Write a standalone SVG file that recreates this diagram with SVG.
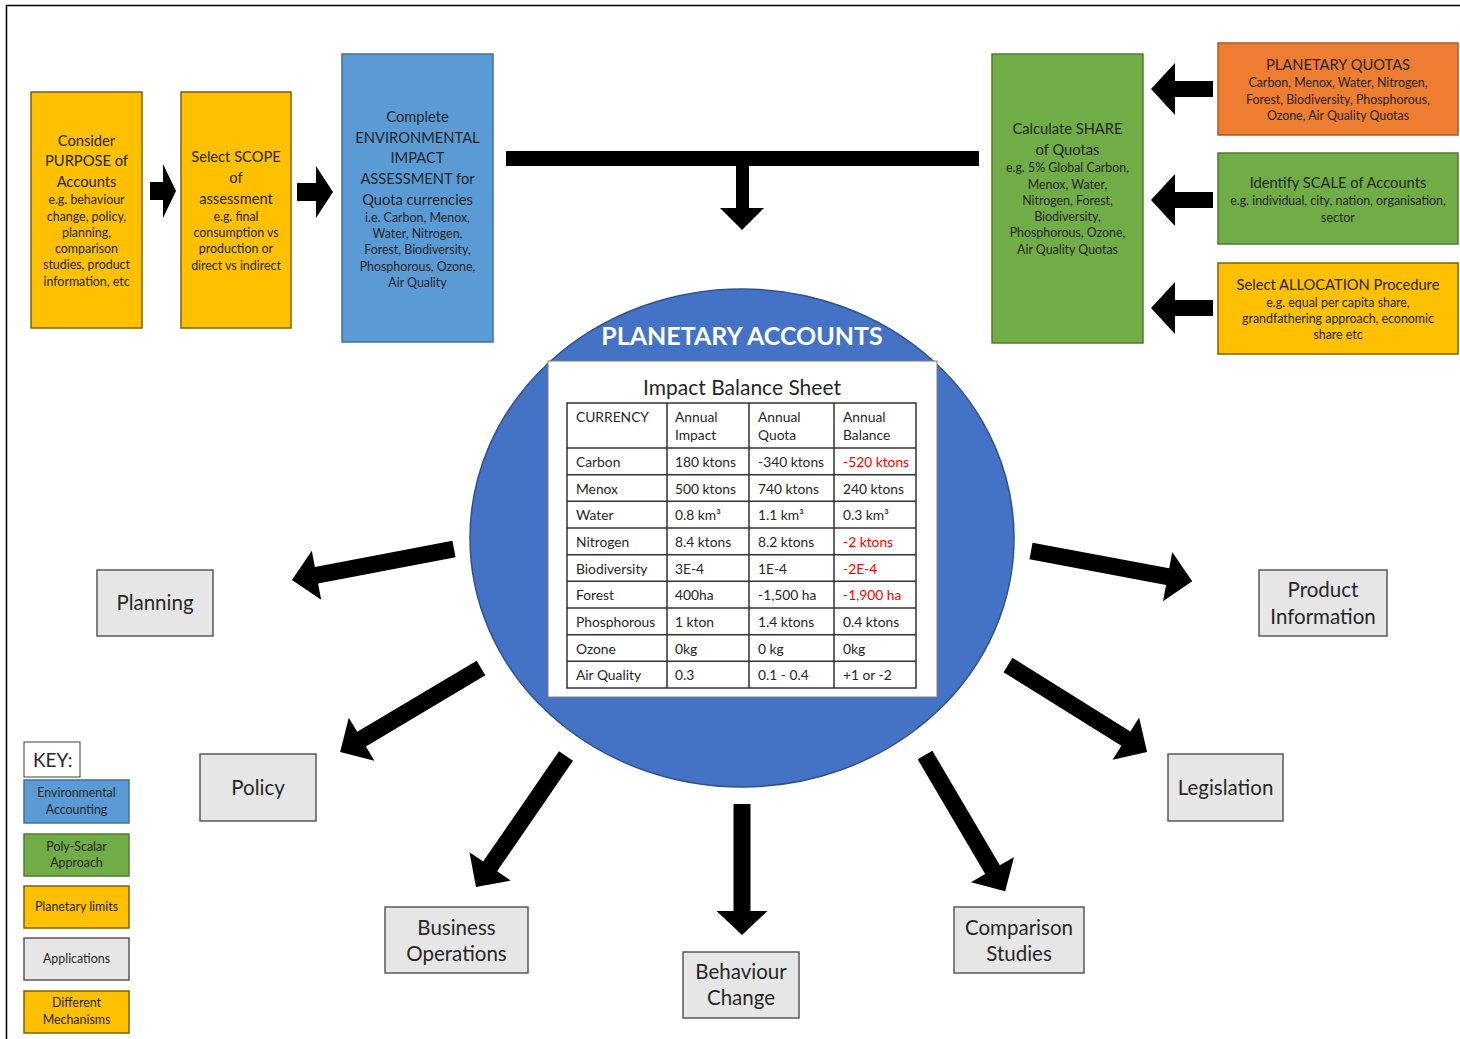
<svg xmlns="http://www.w3.org/2000/svg" width="1460" height="1039" viewBox="0 0 1460 1039">
<style>
.t{font-family:Lato,"Open Sans","Liberation Sans",sans-serif;fill:#262626;text-anchor:middle}
.b{font-size:14.7px}
.s{font-size:12.4px}
.ap{font-size:20.5px}
.tb{font-family:Lato,"Open Sans","Liberation Sans",sans-serif;fill:#262626;font-size:13.8px}
.red{fill:#FF0000}
.yel{fill:#FFC000;stroke:#7F6000;stroke-width:1.5}
.blu{fill:#5B9BD5;stroke:#41719C;stroke-width:1.5}
.grn{fill:#70AD47;stroke:#507E32;stroke-width:1.5}
.org{fill:#ED7D31;stroke:#AE5A21;stroke-width:1.5}
.gry{fill:#E7E6E6;stroke:#595959;stroke-width:1.5}
.arr{fill:#000}
.grid{stroke:#333;stroke-width:1.5;fill:none}
</style>
<rect width="1460" height="1039" fill="#fff"/>
<path d="M6.5,1039 V5.5 H1460" fill="none" stroke="#000" stroke-width="1.5"/>

<g id="connectors">
<polygon class="arr" points="150,182 163,182 163,164 176,191 163,218 163,200 150,200"/>
<polygon class="arr" points="297,183 316,183 316,166 333,192 316,218 316,201 297,201"/>
<polygon class="arr" points="506,151 979,151 979,166 749,166 749,208 764,208 742,230 720,208 736,208 736,166 506,166"/>
<polygon class="arr" points="1213,81 1175,81 1175,63 1151,89 1175,115 1175,97 1213,97"/>
<polygon class="arr" points="1213,192 1175,192 1175,174 1151,200 1175,226 1175,208 1213,208"/>
<polygon class="arr" points="1213,300 1175,300 1175,282 1151,308 1175,334 1175,316 1213,316"/>
<polygon class="arr" transform="translate(454,549) rotate(169.2)" points="0,-8.5 140,-8.5 140,-25 165,0 140,25 140,8.5 0,8.5"/>
<polygon class="arr" transform="translate(481,668) rotate(149.2)" points="0,-8.5 139,-8.5 139,-25 164,0 139,25 139,8.5 0,8.5"/>
<polygon class="arr" transform="translate(566,756) rotate(124.5)" points="0,-8.5 134,-8.5 134,-25 159,0 134,25 134,8.5 0,8.5"/>
<polygon class="arr" transform="translate(742,804) rotate(90)" points="0,-8.5 107,-8.5 107,-25.5 131,0 107,25.5 107,8.5 0,8.5"/>
<polygon class="arr" transform="translate(925,755) rotate(59.5)" points="0,-8.5 133,-8.5 133,-25 158,0 133,25 133,8.5 0,8.5"/>
<polygon class="arr" transform="translate(1008,665) rotate(32)" points="0,-8.5 139,-8.5 139,-25 164,0 139,25 139,8.5 0,8.5"/>
<polygon class="arr" transform="translate(1031,551) rotate(10.6)" points="0,-8.5 139,-8.5 139,-25 164,0 139,25 139,8.5 0,8.5"/>
</g>

<g id="purpose">
<rect class="yel" x="31" y="92" width="111" height="236"/>
<text class="t b"><tspan x="86.5" y="146">Consider</tspan><tspan x="86.5" y="166">PURPOSE of</tspan><tspan x="86.5" y="187">Accounts</tspan></text>
<text class="t s"><tspan x="86.5" y="204">e.g. behaviour</tspan><tspan x="86.5" y="221">change, policy,</tspan><tspan x="86.5" y="237">planning,</tspan><tspan x="86.5" y="253">comparison</tspan><tspan x="86.5" y="269">studies, product</tspan><tspan x="86.5" y="286">information, etc</tspan></text>
</g>

<g id="scope">
<rect class="yel" x="181" y="92" width="110" height="236"/>
<text class="t b"><tspan x="236" y="162">Select SCOPE</tspan><tspan x="236" y="183">of</tspan><tspan x="236" y="204">assessment</tspan></text>
<text class="t s"><tspan x="236" y="221">e.g. final</tspan><tspan x="236" y="237">consumption vs</tspan><tspan x="236" y="253">production or</tspan><tspan x="236" y="270">direct vs indirect</tspan></text>
</g>

<g id="eia">
<rect class="blu" x="342" y="54" width="151" height="288"/>
<text class="t b"><tspan x="417.5" y="122">Complete</tspan><tspan x="417.5" y="143">ENVIRONMENTAL</tspan><tspan x="417.5" y="163">IMPACT</tspan><tspan x="417.5" y="184">ASSESSMENT for</tspan><tspan x="417.5" y="205">Quota currencies</tspan></text>
<text class="t s"><tspan x="417.5" y="222">i.e. Carbon, Menox,</tspan><tspan x="417.5" y="238">Water, Nitrogen,</tspan><tspan x="417.5" y="254">Forest, Biodiversity,</tspan><tspan x="417.5" y="271">Phosphorous, Ozone,</tspan><tspan x="417.5" y="287">Air Quality</tspan></text>
</g>

<g id="share">
<rect class="grn" x="992" y="54" width="151" height="289"/>
<text class="t b"><tspan x="1067.5" y="134">Calculate SHARE</tspan><tspan x="1067.5" y="155">of Quotas</tspan></text>
<text class="t s"><tspan x="1067.5" y="172">e.g. 5% Global Carbon,</tspan><tspan x="1067.5" y="189">Menox, Water,</tspan><tspan x="1067.5" y="205">Nitrogen, Forest,</tspan><tspan x="1067.5" y="221">Biodiversity,</tspan><tspan x="1067.5" y="237">Phosphorous, Ozone,</tspan><tspan x="1067.5" y="254">Air Quality Quotas</tspan></text>
</g>

<g id="quotas">
<rect class="org" x="1218" y="43" width="240" height="92"/>
<text class="t b"><tspan x="1338" y="70">PLANETARY QUOTAS</tspan></text>
<text class="t s"><tspan x="1338" y="87">Carbon, Menox, Water, Nitrogen,</tspan><tspan x="1338" y="104">Forest, Biodiversity, Phosphorous,</tspan><tspan x="1338" y="120">Ozone, Air Quality Quotas</tspan></text>
</g>

<g id="scale">
<rect class="grn" x="1218" y="153" width="240" height="91"/>
<text class="t b"><tspan x="1338" y="188">Identify SCALE of Accounts</tspan></text>
<text class="t s"><tspan x="1338" y="205">e.g. individual, city, nation, organisation,</tspan><tspan x="1338" y="222">sector</tspan></text>
</g>

<g id="allocation">
<rect class="yel" x="1218" y="263" width="240" height="91"/>
<text class="t b"><tspan x="1338" y="290">Select ALLOCATION Procedure</tspan></text>
<text class="t s"><tspan x="1338" y="307">e.g. equal per capita share,</tspan><tspan x="1338" y="323">grandfathering approach, economic</tspan><tspan x="1338" y="339">share etc</tspan></text>
</g>

<g id="planetary-accounts">
<ellipse cx="742" cy="538" rx="272" ry="249" fill="#4472C4" stroke="#2F528F" stroke-width="1.5"/>
<text x="742" y="345" style="font-family:Lato,'Open Sans','Liberation Sans',sans-serif;font-weight:bold;font-size:25px;fill:#fff;text-anchor:middle">PLANETARY ACCOUNTS</text>
<rect x="548" y="361" width="389" height="336" fill="#fff" stroke="#7f7f7f" stroke-width="1"/>
<text x="742" y="395" class="t" style="font-size:21px">Impact Balance Sheet</text>
<g class="grid">
<rect x="567" y="403" width="349" height="285"/>
<path d="M667,403V688M749,403V688M834,403V688M567,448H916M567,474.7H916M567,501.3H916M567,528H916M567,554.7H916M567,581.3H916M567,608H916M567,634.7H916M567,661.3H916"/>
</g>
<g class="tb">
<text x="576" y="422">CURRENCY</text>
<text x="675" y="422">Annual</text><text x="675" y="440">Impact</text>
<text x="758" y="422">Annual</text><text x="758" y="440">Quota</text>
<text x="843" y="422">Annual</text><text x="843" y="440">Balance</text>
<text x="576" y="467">Carbon</text><text x="675" y="467">180 ktons</text><text x="758" y="467">-340 ktons</text><text x="843" y="467" class="red">-520 ktons</text>
<text x="576" y="493.7">Menox</text><text x="675" y="493.7">500 ktons</text><text x="758" y="493.7">740 ktons</text><text x="843" y="493.7">240 ktons</text>
<text x="576" y="520.3">Water</text><text x="675" y="520.3">0.8 km³</text><text x="758" y="520.3">1.1 km³</text><text x="843" y="520.3">0.3 km³</text>
<text x="576" y="547">Nitrogen</text><text x="675" y="547">8.4 ktons</text><text x="758" y="547">8.2 ktons</text><text x="843" y="547" class="red">-2 ktons</text>
<text x="576" y="573.7">Biodiversity</text><text x="675" y="573.7">3E-4</text><text x="758" y="573.7">1E-4</text><text x="843" y="573.7" class="red">-2E-4</text>
<text x="576" y="600.3">Forest</text><text x="675" y="600.3">400ha</text><text x="758" y="600.3">-1,500 ha</text><text x="843" y="600.3" class="red">-1,900 ha</text>
<text x="576" y="627">Phosphorous</text><text x="675" y="627">1 kton</text><text x="758" y="627">1.4 ktons</text><text x="843" y="627">0.4 ktons</text>
<text x="576" y="653.7">Ozone</text><text x="675" y="653.7">0kg</text><text x="758" y="653.7">0 kg</text><text x="843" y="653.7">0kg</text>
<text x="576" y="680.3">Air Quality</text><text x="675" y="680.3">0.3</text><text x="758" y="680.3">0.1 - 0.4</text><text x="843" y="680.3">+1 or -2</text>
</g>
</g>

<g id="planning"><rect class="gry" x="97" y="570" width="116" height="66"/><text class="t ap" x="155" y="610">Planning</text></g>
<g id="product-information"><rect class="gry" x="1259" y="570" width="128" height="66"/><text class="t ap"><tspan x="1323" y="597">Product</tspan><tspan x="1323" y="624">Information</tspan></text></g>
<g id="policy"><rect class="gry" x="200" y="754" width="116" height="67"/><text class="t ap" x="258" y="795">Policy</text></g>
<g id="legislation"><rect class="gry" x="1168" y="754" width="115" height="67"/><text class="t ap" x="1225.5" y="795">Legislation</text></g>
<g id="business-operations"><rect class="gry" x="385" y="907" width="143" height="66"/><text class="t ap"><tspan x="456.5" y="935">Business</tspan><tspan x="456.5" y="961">Operations</tspan></text></g>
<g id="behaviour-change"><rect class="gry" x="683" y="952" width="116" height="66"/><text class="t ap"><tspan x="741" y="979">Behaviour</tspan><tspan x="741" y="1005">Change</tspan></text></g>
<g id="comparison-studies"><rect class="gry" x="954" y="907" width="130" height="66"/><text class="t ap"><tspan x="1019" y="935">Comparison</tspan><tspan x="1019" y="961">Studies</tspan></text></g>

<g id="key">
<rect x="24" y="742" width="56" height="35" fill="#fff" stroke="#404040" stroke-width="1"/>
<text x="33" y="767" style="font-family:Lato,'Open Sans','Liberation Sans',sans-serif;font-size:19px;fill:#262626">KEY:</text>
<rect class="blu" x="24" y="780" width="105" height="43"/>
<text class="t s"><tspan x="76.5" y="797">Environmental</tspan><tspan x="76.5" y="814">Accounting</tspan></text>
<rect class="grn" x="24" y="834" width="105" height="42"/>
<text class="t s"><tspan x="76.5" y="851">Poly-Scalar</tspan><tspan x="76.5" y="867">Approach</tspan></text>
<rect class="yel" x="24" y="886" width="105" height="42"/>
<text class="t s" x="76.5" y="911">Planetary limits</text>
<rect class="gry" x="24" y="938" width="105" height="42"/>
<text class="t s" x="76.5" y="963">Applications</text>
<rect class="yel" x="24" y="991" width="105" height="42"/>
<text class="t s"><tspan x="76.5" y="1007">Different</tspan><tspan x="76.5" y="1024">Mechanisms</tspan></text>
</g>
</svg>
